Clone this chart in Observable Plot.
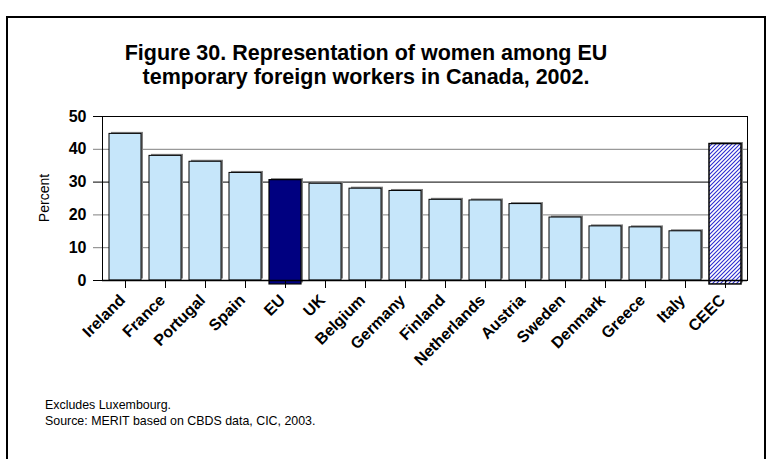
<!DOCTYPE html>
<html>
<head>
<meta charset="utf-8">
<script src="https://cdn.jsdelivr.net/npm/d3@7"></script>
<script src="https://cdn.jsdelivr.net/npm/@observablehq/plot@0.6"></script>
<style>
  body { margin: 0; background: #fff; font-family: "Liberation Sans", Arial, sans-serif; }
  #wrap { position: relative; width: 771px; height: 459px; overflow: hidden; background: #fff; }
  #frame { position: absolute; left: 6px; top: 16px; width: 760px; height: 470px; border: 2px solid #000; box-sizing: border-box; }
  #chart { position: absolute; left: 0; top: 0; }
  #title { position: absolute; left: 0; top: 41px; width: 732px; text-align: center; font-weight: bold; font-size: 21.5px; line-height: 24px; color: #000; }
  #notes { position: absolute; left: 45px; top: 397px; font-size: 12.4px; line-height: 16px; color: #000; }
  #ylabel { position: absolute; left: -6px; top: 190px; width: 100px; text-align: center; font-size: 14px; line-height: 16px; transform: rotate(-90deg); transform-origin: 50% 50%; }
</style>
</head>
<body>
<div id="wrap">
  <div id="frame"></div>
  <div id="chart"></div>
  <div id="title">Figure 30. Representation of women among EU<br>temporary foreign workers in Canada, 2002.</div>
  <div id="ylabel">Percent</div>
  <div id="notes">Excludes Luxembourg.<br>Source: MERIT based on CBDS data, CIC, 2003.</div>
</div>
<script>
// ---- data ----
const countries = ["Ireland", "France", "Portugal", "Spain", "EU", "UK", "Belgium", "Germany",
  "Finland", "Netherlands", "Austria", "Sweden", "Denmark", "Greece", "Italy", "CEEC"];
const percentWomen = [44.7, 38.0, 36.2, 32.8, 30.6, 29.5, 28.0, 27.3,
  24.6, 24.4, 23.3, 19.2, 16.5, 16.2, 15.0, 41.6];
const groupKind = ["country", "country", "country", "country", "eu", "country", "country", "country",
  "country", "country", "country", "country", "country", "country", "country", "ceec"];
const yTicks = [0, 10, 20, 30, 40, 50];

const rows = countries.map((c, i) => ({country: c, value: percentWomen[i], kind: groupKind[i]}));
const plain = rows.filter(d => d.kind === "country");
const euRow = rows.filter(d => d.kind === "eu");
const ceecRow = rows.filter(d => d.kind === "ceec");
const drop = -1.2; // highlighted bars sink slightly below the axis

const font = "'Liberation Sans', Arial, sans-serif";

const chart = Plot.plot({
  width: 771,
  height: 459,
  marginLeft: 102,
  marginRight: 24,
  marginTop: 116,
  marginBottom: 179,
  style: {fontFamily: font, background: "transparent", color: "#000", overflow: "visible"},
  x: {domain: countries, paddingInner: 0.2, paddingOuter: 0.1, label: null},
  y: {domain: [0, 50], label: null},
  marks: [
    Plot.ruleY(yTicks, {stroke: d => (d === 0 || d === 30 || d === 50) ? "#000000" : "#808080", insetLeft: -9}),
    // shadows
    Plot.barY(rows, {x: "country", y1: d => d.kind === "country" ? 0 : drop, y2: "value", fill: "#808080", dx: 2, dy: -1.5}),
    // bars
    Plot.barY(plain, {x: "country", y1: 0, y2: "value", fill: "#c6e6fa", stroke: "#000", strokeWidth: 1}),
    Plot.barY(euRow, {x: "country", y1: drop, y2: "value", fill: "#000080", stroke: "#000", strokeWidth: 1.2}),
    Plot.barY(ceecRow, {x: "country", y1: drop, y2: "value", fill: "url(#hatch)", stroke: "#000", strokeWidth: 1.5}),
    Plot.frame({stroke: "#000", strokeWidth: 1}),
    Plot.ruleY([0], {stroke: "#000", strokeWidth: 1.6}),
    Plot.axisY({ticks: yTicks, tickSize: 0, tickPadding: 16, fontSize: 16, fontWeight: "bold", label: null}),
    Plot.axisX({tickSize: 8, tickFormat: () => "", label: null}),
    Plot.axisX({tickSize: 0, tickPadding: 14, tickRotate: -45, dx: -3, dy: 3, fontSize: 16, fontWeight: "bold", label: null})
  ]
});

// hatch pattern for CEEC bar
const defs = d3.select(chart).insert("defs", ":first-child");
const pat = defs.append("pattern")
  .attr("id", "hatch")
  .attr("patternUnits", "userSpaceOnUse")
  .attr("width", 4)
  .attr("height", 4);
pat.append("rect").attr("width", 4).attr("height", 4).attr("fill", "#fff");
pat.append("path")
  .attr("d", "M-1,1 L1,-1 M0,4 L4,0 M3,5 L5,3")
  .attr("stroke", "#2a2ad0")
  .attr("stroke-width", 1.1);

document.getElementById("chart").appendChild(chart);
</script>
</body>
</html>
